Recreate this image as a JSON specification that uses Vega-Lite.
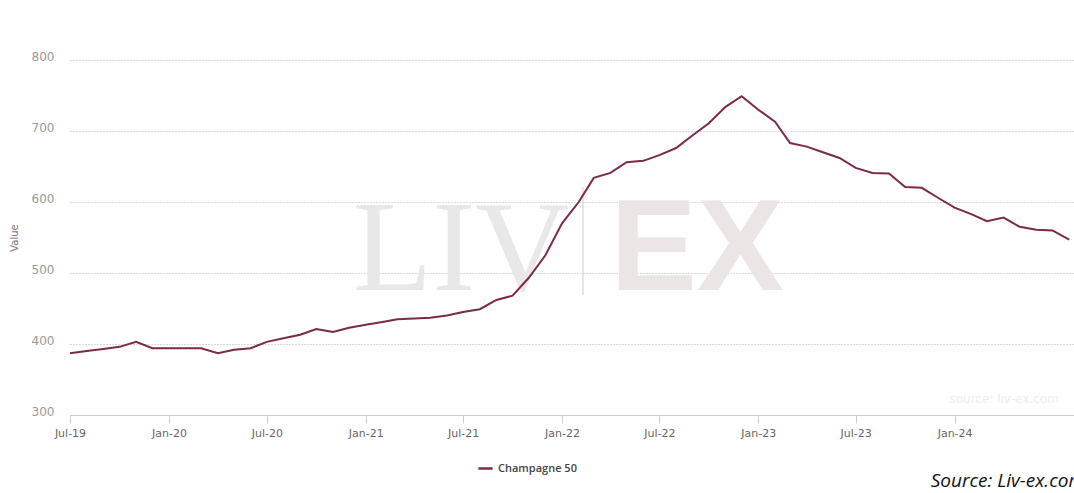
{
  "$schema": "https://vega.github.io/schema/vega-lite/v6.json",
  "width": 1004,
  "height": 355,
  "autosize": {"type": "none"},
  "padding": {"left": 70, "top": 60, "right": 0, "bottom": 78},
  "background": "white",
  "title": {
    "text": "Source: Liv-ex.com",
    "orient": "top",
    "anchor": "end",
    "frame": "group",
    "font": "Open Sans",
    "fontSize": 19,
    "fontStyle": "italic",
    "fontWeight": "normal",
    "color": "#111",
    "offset": 0,
    "dy": 441,
    "dx": 11
  },
  "config": {
    "view": {"stroke": null},
    "font": "DejaVu Sans"
  },
  "datasets": {
    "index": [
      {"date": "2019-07-01", "value": 387, "series": "Champagne 50"},
      {"date": "2019-08-01", "value": 390, "series": "Champagne 50"},
      {"date": "2019-09-01", "value": 393, "series": "Champagne 50"},
      {"date": "2019-10-01", "value": 396, "series": "Champagne 50"},
      {"date": "2019-11-01", "value": 403, "series": "Champagne 50"},
      {"date": "2019-12-01", "value": 394, "series": "Champagne 50"},
      {"date": "2020-01-01", "value": 394, "series": "Champagne 50"},
      {"date": "2020-02-01", "value": 394, "series": "Champagne 50"},
      {"date": "2020-03-01", "value": 394, "series": "Champagne 50"},
      {"date": "2020-04-01", "value": 387, "series": "Champagne 50"},
      {"date": "2020-05-01", "value": 392, "series": "Champagne 50"},
      {"date": "2020-06-01", "value": 394, "series": "Champagne 50"},
      {"date": "2020-07-01", "value": 403, "series": "Champagne 50"},
      {"date": "2020-08-01", "value": 408, "series": "Champagne 50"},
      {"date": "2020-09-01", "value": 413, "series": "Champagne 50"},
      {"date": "2020-10-01", "value": 421, "series": "Champagne 50"},
      {"date": "2020-11-01", "value": 417, "series": "Champagne 50"},
      {"date": "2020-12-01", "value": 423, "series": "Champagne 50"},
      {"date": "2021-01-01", "value": 427, "series": "Champagne 50"},
      {"date": "2021-02-01", "value": 431, "series": "Champagne 50"},
      {"date": "2021-03-01", "value": 435, "series": "Champagne 50"},
      {"date": "2021-04-01", "value": 436, "series": "Champagne 50"},
      {"date": "2021-05-01", "value": 437, "series": "Champagne 50"},
      {"date": "2021-06-01", "value": 440, "series": "Champagne 50"},
      {"date": "2021-07-01", "value": 445, "series": "Champagne 50"},
      {"date": "2021-08-01", "value": 449, "series": "Champagne 50"},
      {"date": "2021-09-01", "value": 462, "series": "Champagne 50"},
      {"date": "2021-10-01", "value": 468, "series": "Champagne 50"},
      {"date": "2021-11-01", "value": 494, "series": "Champagne 50"},
      {"date": "2021-12-01", "value": 525, "series": "Champagne 50"},
      {"date": "2022-01-01", "value": 570, "series": "Champagne 50"},
      {"date": "2022-02-01", "value": 600, "series": "Champagne 50"},
      {"date": "2022-03-01", "value": 634, "series": "Champagne 50"},
      {"date": "2022-04-01", "value": 641, "series": "Champagne 50"},
      {"date": "2022-05-01", "value": 656, "series": "Champagne 50"},
      {"date": "2022-06-01", "value": 658, "series": "Champagne 50"},
      {"date": "2022-07-01", "value": 666, "series": "Champagne 50"},
      {"date": "2022-08-01", "value": 676, "series": "Champagne 50"},
      {"date": "2022-09-01", "value": 694, "series": "Champagne 50"},
      {"date": "2022-10-01", "value": 711, "series": "Champagne 50"},
      {"date": "2022-11-01", "value": 734, "series": "Champagne 50"},
      {"date": "2022-12-01", "value": 749, "series": "Champagne 50"},
      {"date": "2023-01-01", "value": 730, "series": "Champagne 50"},
      {"date": "2023-02-01", "value": 713, "series": "Champagne 50"},
      {"date": "2023-03-01", "value": 683, "series": "Champagne 50"},
      {"date": "2023-04-01", "value": 678, "series": "Champagne 50"},
      {"date": "2023-05-01", "value": 670, "series": "Champagne 50"},
      {"date": "2023-06-01", "value": 662, "series": "Champagne 50"},
      {"date": "2023-07-01", "value": 648, "series": "Champagne 50"},
      {"date": "2023-08-01", "value": 641, "series": "Champagne 50"},
      {"date": "2023-09-01", "value": 640, "series": "Champagne 50"},
      {"date": "2023-10-01", "value": 621, "series": "Champagne 50"},
      {"date": "2023-11-01", "value": 620, "series": "Champagne 50"},
      {"date": "2023-12-01", "value": 606, "series": "Champagne 50"},
      {"date": "2024-01-01", "value": 592, "series": "Champagne 50"},
      {"date": "2024-02-01", "value": 583, "series": "Champagne 50"},
      {"date": "2024-03-01", "value": 573, "series": "Champagne 50"},
      {"date": "2024-04-01", "value": 578, "series": "Champagne 50"},
      {"date": "2024-05-01", "value": 565, "series": "Champagne 50"},
      {"date": "2024-06-01", "value": 561, "series": "Champagne 50"},
      {"date": "2024-07-01", "value": 560, "series": "Champagne 50"},
      {"date": "2024-08-01", "value": 547, "series": "Champagne 50"}
    ]
  },
  "encoding": {
    "x": {
      "field": "date",
      "type": "temporal",
      "scale": {"domain": [{"year": 2019, "month": 7, "date": 1}, {"year": 2024, "month": 8, "date": 10}]},
      "axis": {
        "title": null,
        "format": "%b-%y",
        "values": [
          {"year": 2019, "month": 7, "date": 1},
          {"year": 2020, "month": 1, "date": 1},
          {"year": 2020, "month": 7, "date": 1},
          {"year": 2021, "month": 1, "date": 1},
          {"year": 2021, "month": 7, "date": 1},
          {"year": 2022, "month": 1, "date": 1},
          {"year": 2022, "month": 7, "date": 1},
          {"year": 2023, "month": 1, "date": 1},
          {"year": 2023, "month": 7, "date": 1},
          {"year": 2024, "month": 1, "date": 1}
        ],
        "grid": false,
        "domainColor": "#cccccc",
        "tickColor": "#cccccc",
        "tickSize": 8,
        "labelColor": "#666666",
        "labelFontSize": 11,
        "labelPadding": 4,
        "labelFlush": false
      }
    },
    "y": {
      "field": "value",
      "type": "quantitative",
      "scale": {"domain": [300, 800], "nice": false, "zero": false},
      "axis": {
        "title": "Value",
        "titleFontSize": 10,
        "titleFontWeight": "normal",
        "titleColor": "#777777",
        "titlePadding": 12,
        "values": [300, 400, 500, 600, 700, 800],
        "domain": false,
        "ticks": false,
        "labelColor": "#999999",
        "labelFontSize": 12,
        "labelPadding": 16,
        "labelBaseline": "alphabetic",
        "gridColor": "#b5b5b5",
        "gridDash": [1, 2],
        "gridWidth": 1
      }
    }
  },
  "layer": [
    {
      "data": {"values": [{"date": "2021-06-27", "value": 476, "label": "LIV"}]},
      "mark": {"type": "text", "font": "Liberation Serif", "fontSize": 130, "color": "#e8e8e8", "align": "center", "baseline": "alphabetic"},
      "encoding": {"text": {"field": "label"}}
    },
    {
      "data": {"values": [{"date": "2022-09-09", "value": 476, "label": "EX"}]},
      "mark": {"type": "text", "font": "Liberation Sans", "fontWeight": "bold", "fontSize": 130, "color": "#ece5e5", "align": "center", "baseline": "alphabetic"},
      "encoding": {"text": {"field": "label"}}
    },
    {
      "data": {"values": [{"date": "2022-02-09", "value": 621, "value2": 469}]},
      "mark": {"type": "rule", "color": "#dddddd", "strokeWidth": 1.5},
      "encoding": {"y2": {"field": "value2"}}
    },
    {
      "data": {"values": [{"date": "2024-04-02", "value": 317, "label": "source: liv-ex.com"}]},
      "mark": {"type": "text", "fontSize": 12, "color": "#eeeeee", "align": "center", "baseline": "alphabetic"},
      "encoding": {"text": {"field": "label"}}
    },
    {
      "data": {"name": "index"},
      "mark": {"type": "line", "strokeWidth": 2, "clip": true},
      "encoding": {
        "color": {
          "field": "series",
          "type": "nominal",
          "scale": {"range": ["#7b2a48"]},
          "legend": {
            "title": null,
            "orient": "none",
            "legendX": 407,
            "legendY": 400,
            "symbolType": "stroke",
            "symbolStrokeWidth": 2.5,
            "symbolSize": 200,
            "labelFont": "Open Sans",
            "labelFontWeight": 600,
            "labelFontSize": 11,
            "labelColor": "#444444",
            "padding": 0
          }
        }
      }
    }
  ]
}
